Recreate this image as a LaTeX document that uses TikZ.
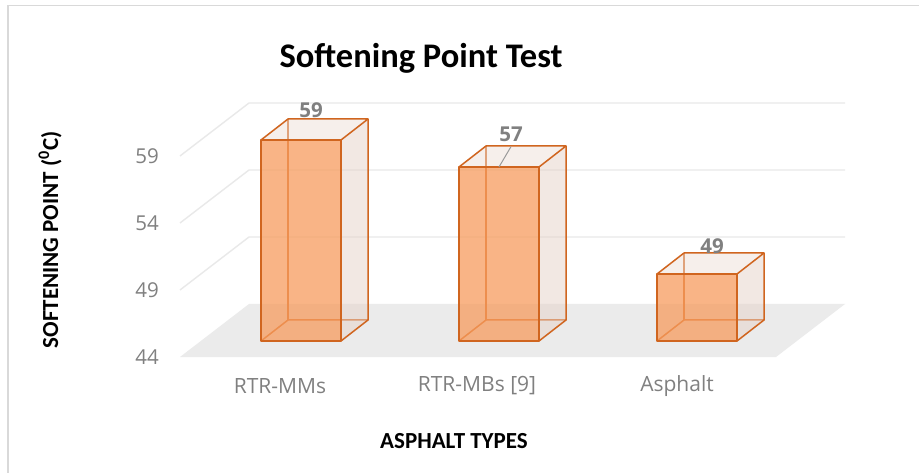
\documentclass[tikz,border=0pt]{standalone}
\usepackage{fontspec}
\setmainfont{Carlito}
\newfontfamily\labfont{Open Sans}
\definecolor{edgec}{HTML}{D0651F}
\definecolor{frontc}{HTML}{F79C5E}
\definecolor{sidec}{HTML}{E6D2C8}
\definecolor{topc}{HTML}{EEE0D8}
\definecolor{floorc}{HTML}{EBEBEB}
\definecolor{gridc}{HTML}{E9E9E9}
\definecolor{framec}{HTML}{D9D9D9}
\definecolor{txtgray}{HTML}{808080}
\tikzset{
  edgeline/.style={draw=edgec, line width=1.5pt, line join=round},
  gridline/.style={draw=gridc, line width=1.4pt},
  ticklab/.style={font=\labfont\fontsize{20.5}{22}\selectfont, text=txtgray, anchor=east, inner sep=0pt},
  catlab/.style={font=\labfont\fontsize{21}{23}\selectfont, text=txtgray, inner sep=0pt},
  vallab/.style={font=\labfont\bfseries\fontsize{20.5}{22}\selectfont, text=txtgray, inner sep=0pt},
  axtitle/.style={font=\bfseries\fontsize{23}{25}\selectfont, text=black, inner sep=0pt},
}
% #1 front-left x, #2 front top y
\newcommand{\mybarbox}[2]{%
  \pgfmathsetmacro{\xa}{#1}\pgfmathsetmacro{\xb}{#1+80}%
  \pgfmathsetmacro{\xc}{#1+27}\pgfmathsetmacro{\xd}{#1+107}%
  \pgfmathsetmacro{\yt}{#2}\pgfmathsetmacro{\ytb}{#2-21}%
  % hidden edges
  \draw[edgeline] (\xa,341) -- (\xc,320) -- (\xd,320);
  \draw[edgeline] (\xc,320) -- (\xc,\ytb);
  % side and top faces
  \fill[sidec, fill opacity=0.5] (\xb,341) -- (\xd,320) -- (\xd,\ytb) -- (\xb,\yt) -- cycle;
  \fill[topc, fill opacity=0.5] (\xa,\yt) -- (\xc,\ytb) -- (\xd,\ytb) -- (\xb,\yt) -- cycle;
  % front face
  \fill[frontc, fill opacity=0.75] (\xa,341) rectangle (\xb,\yt);
  % visible edges
  \draw[edgeline] (\xa,341) rectangle (\xb,\yt);
  \draw[edgeline] (\xa,\yt) -- (\xc,\ytb) -- (\xd,\ytb) -- (\xb,\yt);
  \draw[edgeline] (\xd,\ytb) -- (\xd,320) -- (\xb,341);
}
\begin{document}
\begin{tikzpicture}[x=1pt,y=-1pt]
\useasboundingbox (0,0) rectangle (919,473);
\fill[white] (0,0) rectangle (919,473);
% frame
\draw[framec, line width=1.5pt] (8,473) -- (8,5.5) -- (919,5.5);
% floor
\fill[floorc] (180,357) -- (249,304) -- (845,304) -- (776,357) -- cycle;
% gridlines
\foreach \yb in {237,170,103} {
  \draw[gridline] (180,\yb+53) -- (249,\yb) -- (845,\yb);
}
% tick labels
\node[ticklab] (t59) at (159,156) {59};
\node[ticklab] (t54) at (159,223) {54};
\node[ticklab] (t49) at (159,290) {49};
\node[ticklab] (t44) at (159,357) {44};
% bars
\mybarbox{261}{140}
\mybarbox{459}{167}
\mybarbox{657}{274}
% value labels
\node[vallab] (v59) at (311,110) {59};
\node[vallab] (v57) at (511,134) {57};
\node[vallab] (v49) at (712,246) {49};
\coordinate (l57) at (499,167);
\draw[txtgray!80, line width=1pt] (v57.south) ++(0,5) -- (l57);
% category labels
\node[catlab] (c1) at (280,386) {RTR-MMs};
\node[catlab] (c2) at (477,386) {RTR-MBs [9]};
\node[catlab] (c3) at (677,386) {Asphalt};
% titles
\node[font=\bfseries\fontsize{34.5}{36}\selectfont, inner sep=0pt] (title) at (421,58) {Softening Point Test};
\node[axtitle, rotate=90] (ytitle) at (50,240) {SOFTENING POINT (\textsuperscript{0}C)};
\node[axtitle] (xtitle) at (454,441) {ASPHALT TYPES};
\end{tikzpicture}
\end{document}
